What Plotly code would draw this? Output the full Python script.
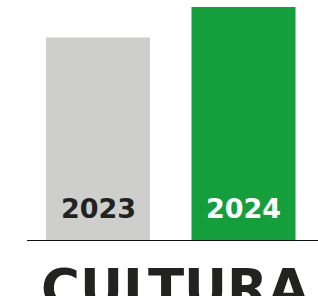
import plotly.graph_objects as go

years = ["2023", "2024"]
values = [87, 100]
bar_colors = ["#cececc", "#149e3c"]
label_colors = ["#222220", "#ffffff"]
category = "CULTURA"

xpos = list(range(len(years)))

fig = go.Figure()
fig.add_trace(go.Bar(
    x=xpos, y=values, width=0.715,
    marker=dict(color=bar_colors, line=dict(width=0)),
    hoverinfo="skip",
))

for xi, yr, col in zip(xpos, years, label_colors):
    fig.add_annotation(
        x=xi, y=0, xref="x", yref="y", text="<b>%s</b>" % yr,
        showarrow=False, yanchor="middle", yshift=33,
        font=dict(family="DejaVu Sans", size=27, color=col),
    )

fig.add_annotation(
    x=(175 - 27) / 291, xref="paper", y=0, yref="paper", text="<b>%s</b>" % category,
    showarrow=False, xanchor="center", yanchor="top", yshift=-15,
    font=dict(family="DejaVu Sans", size=53, color="#222220"),
)

fig.update_layout(
    width=318, height=296,
    margin=dict(l=27, r=0, t=0, b=55),
    paper_bgcolor="white", plot_bgcolor="white",
    showlegend=False,
    xaxis=dict(range=[-0.488, 1.512], showgrid=False, zeroline=False,
               showticklabels=False, showline=False, fixedrange=True),
    yaxis=dict(range=[0, 100 * 241 / 234], showgrid=False, zeroline=False,
               showticklabels=False, showline=False, fixedrange=True),
    shapes=[dict(type="line", xref="paper", yref="y", x0=0, x1=1, y0=0, y1=0,
                 line=dict(color="#111111", width=2))],
)

fig.write_html("out.html", config={"displayModeBar": False},
               post_script="document.body.style.margin='0';document.body.style.overflow='hidden';")
